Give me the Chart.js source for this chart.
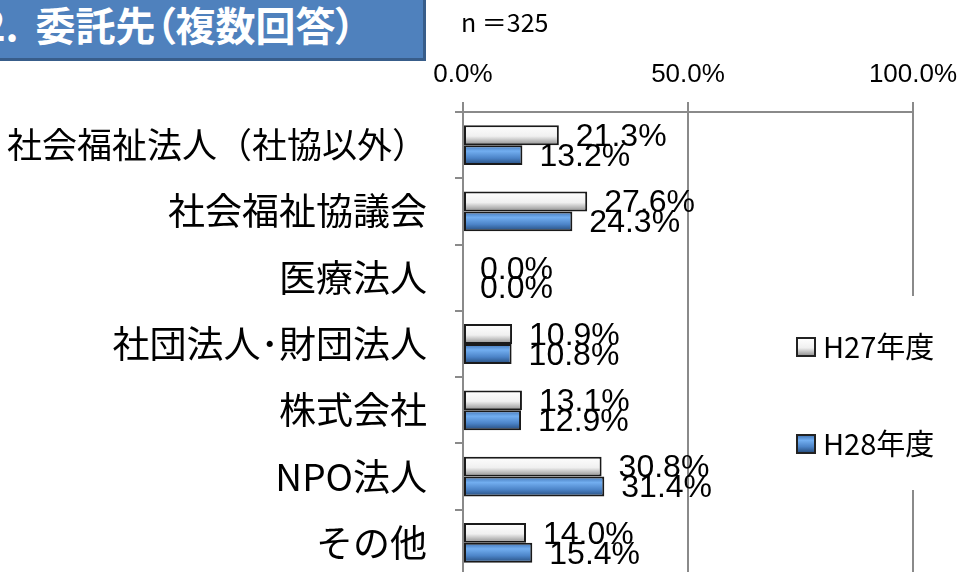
<!DOCTYPE html>
<html>
<head>
<meta charset="utf-8">
<script src="https://cdn.jsdelivr.net/npm/chart.js@4"></script>
<style>
  html, body { margin: 0; padding: 0; background: #fff; overflow: hidden; }
  #wrap { position: relative; width: 974px; height: 578px; }
  #title {
    position: absolute; left: 0; top: 0; width: 423px; height: 58px;
    background: #4f81bd; border-right: 3px solid #385d8a; border-bottom: 3px solid #385d8a;
    overflow: hidden;
  }
  #title span {
    position: absolute; left: -18px; top: 0px; white-space: nowrap;
    color: #fff; font: bold 40px "Noto Sans CJK JP"; line-height: 48px;
    font-feature-settings: "palt";
  }
  #title b { font-weight: bold; margin-right: 17px; }
  #n {
    position: absolute; left: 461px; top: 3px;
    font: 25px "Noto Sans CJK JP"; color: #000; white-space: nowrap;
  }
</style>
</head>
<body>
<div id="wrap">
  <canvas id="chart" width="974" height="578"></canvas>
  <div id="title"><span><b>2.</b>委託先（複数回答）</span></div>
  <div id="n">n ＝325</div>
</div>
<script>
const categories = ['社会福祉法人（社協以外）', '社会福祉協議会', '医療法人', '社団法人･財団法人', '株式会社', 'NPO法人', 'その他'];
const h27Values = [21.3, 27.6, 0.0, 10.9, 13.1, 30.8, 14.0];
const h28Values = [13.2, 24.3, 0.0, 10.8, 12.9, 31.4, 15.4];
const xTicks = [0, 50, 100];

const catPct = 0.6;

function greyGrad(ctx, y0, y1) {
    const g = ctx.createLinearGradient(0, y0, 0, y1);
    g.addColorStop(0, '#ffffff');
    g.addColorStop(0.55, '#f0f0f0');
    g.addColorStop(1, '#8c8c8c');
    return g;
}
function blueGrad(ctx, y0, y1) {
    const g = ctx.createLinearGradient(0, y0, 0, y1);
    g.addColorStop(0, '#3f72b3');
    g.addColorStop(0.3, '#72aef0');
    g.addColorStop(0.65, '#4c84c8');
    g.addColorStop(1, '#244a7a');
    return g;
}
const grads = [greyGrad, blueGrad];

function barFill(context) {
    const chart = context.chart;
    const y = chart.scales.y;
    const fallback = context.datasetIndex === 0 ? '#e6e6e6' : '#4f81bd';
    if (!y || context.dataIndex === undefined) return fallback;
    const band = (y.bottom - y.top) / categories.length;
    const thick = band * catPct / 2;
    const top = y.getPixelForValue(context.dataIndex) - thick + context.datasetIndex * thick;
    if (!isFinite(top) || !isFinite(thick) || thick <= 0) return fallback;
    return grads[context.datasetIndex](chart.ctx, top, top + thick);
}

// value labels at bar ends
const valueLabels = {
    id: 'valueLabels',
    afterDatasetsDraw(chart) {
        const ctx = chart.ctx;
        ctx.save();
        ctx.font = '32px "Liberation Sans"';
        ctx.fillStyle = '#000';
        ctx.textAlign = 'left';
        ctx.textBaseline = 'middle';
        chart.data.datasets.forEach((ds, i) => {
            chart.getDatasetMeta(i).data.forEach((bar, j) => {
                ctx.fillText(ds.data[j].toFixed(1) + '%', bar.x + 17, bar.y + 2);
            });
        });
        ctx.restore();
    }
};

// legend box drawn over the plot, like the original
const sideLegend = {
    id: 'sideLegend',
    afterDraw(chart) {
        const ctx = chart.ctx;
        ctx.save();
        ctx.fillStyle = '#fff';
        ctx.fillRect(786, 296, 188, 194);
        const rows = [347, 444];
        ctx.font = '29px "Noto Sans CJK JP"';
        ctx.textBaseline = 'middle';
        ctx.textAlign = 'left';
        chart.data.datasets.forEach((ds, i) => {
            const cy = rows[i];
            ctx.fillStyle = grads[i](ctx, cy - 9, cy + 9);
            ctx.fillRect(797, cy - 9, 18, 18);
            ctx.strokeStyle = '#222';
            ctx.lineWidth = 2;
            ctx.strokeRect(797, cy - 9, 18, 18);
            ctx.fillStyle = '#000';
            ctx.fillText(ds.label, 823, cy);
        });
        ctx.restore();
    }
};

new Chart(document.getElementById('chart').getContext('2d'), {
    type: 'bar',
    data: {
        labels: categories,
        datasets: [
            { label: 'H27年度', data: h27Values, backgroundColor: barFill, borderColor: '#1a1a1a', borderWidth: 2, borderSkipped: false },
            { label: 'H28年度', data: h28Values, backgroundColor: barFill, borderColor: '#1a1a1a', borderWidth: 2, borderSkipped: false }
        ]
    },
    options: {
        indexAxis: 'y',
        responsive: false,
        animation: false,
        datasets: { bar: { categoryPercentage: catPct, barPercentage: 1.0 } },
        layout: { padding: { top: 0, right: 61, bottom: 2, left: 0 } },
        plugins: { legend: { display: false }, tooltip: { enabled: false } },
        scales: {
            x: {
                position: 'top',
                min: 0,
                max: 100,
                afterFit: s => { s.height = 112; },
                afterBuildTicks: s => { s.ticks = xTicks.map(v => ({ value: v })); },
                ticks: {
                    callback: v => v.toFixed(1) + '%',
                    color: '#000',
                    padding: 12,
                    maxRotation: 0,
                    font: { family: 'Liberation Sans', size: 26 }
                },
                grid: { color: '#8a8a8a', lineWidth: 2, tickLength: 10 },
                border: { display: true, color: '#8a8a8a', width: 2 }
            },
            y: {
                afterFit: s => { s.width = 463; s.paddingTop = 0; s.paddingBottom = 0; },
                ticks: {
                    color: '#000',
                    padding: 28,
                    // the long first label is a touch smaller so it fits
                    font: c => ({ family: 'Noto Sans CJK JP', size: c.index === 0 ? 35 : 37 })
                },
                grid: { drawOnChartArea: false, color: '#8a8a8a', lineWidth: 2, tickLength: 8 },
                border: { display: true, color: '#8a8a8a', width: 2 }
            }
        }
    },
    plugins: [valueLabels, sideLegend]
});
</script>
</body>
</html>
